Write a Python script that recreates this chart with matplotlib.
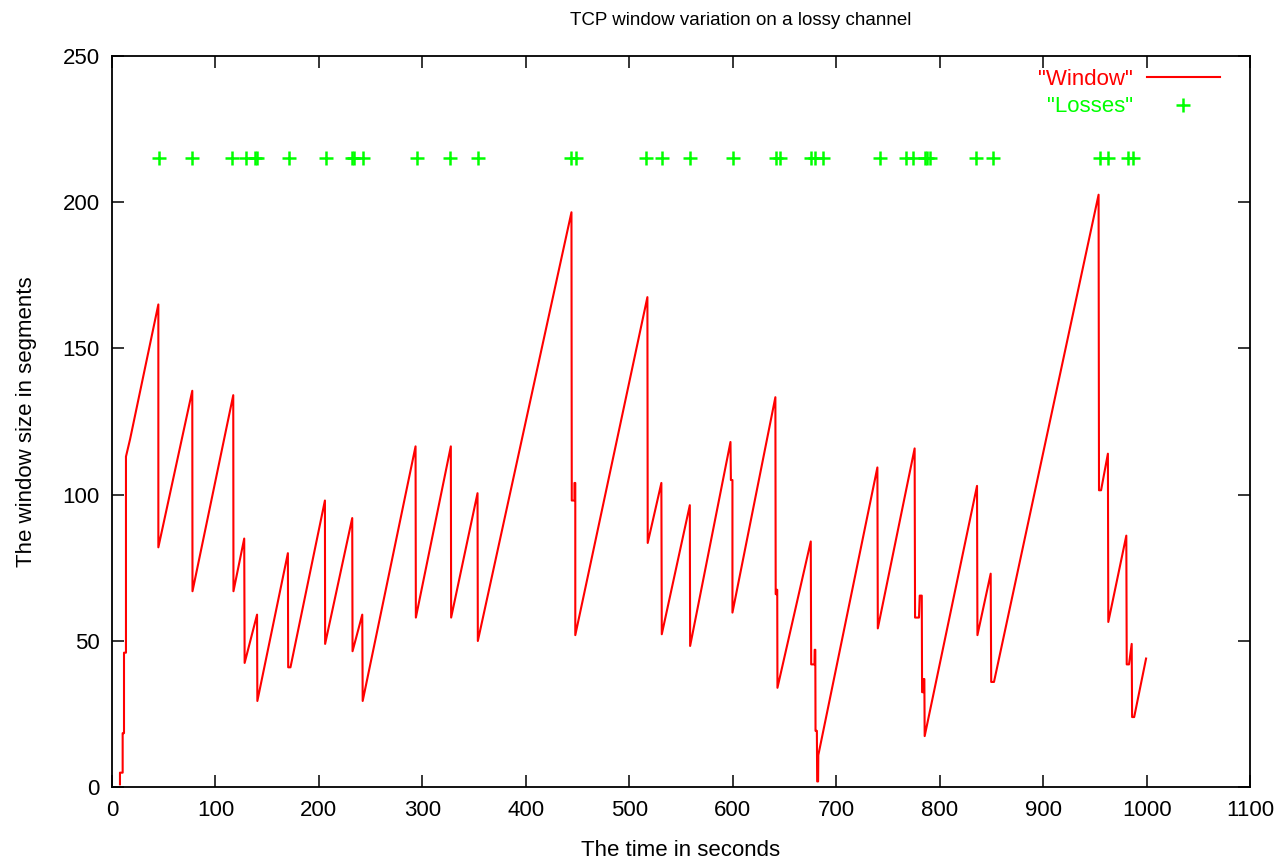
import matplotlib.pyplot as plt

# window trace, corners (time in s, window in segments)
win_t = [7.7, 7.7, 10.3, 10.3, 11.6, 11.6, 13.5, 13.5, 17.5, 44.8, 44.8, 77.6, 77.8,
         117.2, 117.4, 127.8, 128.2, 140.2, 140.5, 170.0, 170.3, 172.5, 205.8, 206.0,
         232.2, 232.5, 241.9, 242.3, 293.4, 293.7, 327.5, 327.8, 353.3, 353.6,
         444.1, 444.4, 447.0, 447.0, 447.8, 447.8, 517.5, 517.8, 531.0, 531.4,
         558.5, 558.8, 597.8, 598.2, 599.7, 599.7, 641.2, 641.5, 642.6, 642.6, 643.0, 643.2,
         675.4, 675.8, 679.0, 679.2, 679.8, 680.0, 681.3, 681.6, 682.5, 682.7,
         739.8, 740.2, 775.8, 776.2, 780.0, 780.7, 782.7, 783.0, 784.5, 784.5, 785.2, 785.5,
         836.1, 836.5, 849.3, 849.8, 852.5, 953.6, 954.0, 956.0, 962.6, 963.0,
         980.4, 980.8, 983.0, 985.6, 986.0, 988.0, 999.5]
win_w = [1, 5, 5, 18.5, 18.5, 46, 46, 113, 119, 165, 82, 135.5, 67,
         134, 67, 85, 42.5, 59, 29.5, 80, 41, 41, 98, 49,
         92, 46.5, 59, 29.5, 116.5, 58, 116.5, 58, 100.5, 50,
         196.5, 98, 98, 104, 104, 52, 167.5, 83.5, 104, 52.3,
         96.4, 48.3, 118, 105, 105, 59.7, 133.3, 66, 66, 67.5, 67.5, 34,
         84, 42, 42, 47, 47, 19.3, 19.3, 2, 2, 11,
         109.3, 54.3, 115.8, 58, 58, 65.5, 65.5, 32.5, 32.5, 37, 37, 17.5,
         103, 52, 73, 36, 36, 202.5, 101.5, 101.5, 114, 56.5,
         86, 42, 42, 49, 24, 24, 44]

# loss events
loss_t = [45.7, 77.6, 115.7, 129.2, 138.4, 140.4, 171.0, 206.9, 231.6, 233.8, 242.8,
          294.4, 326.6, 354.0, 444.1, 448.3, 516.6, 532.0, 558.5, 600.3, 642.2, 645.4,
          676.0, 679.2, 687.2, 742.0, 767.8, 774.2, 785.5, 788.0, 790.3, 835.5, 851.5,
          954.6, 962.6, 981.9, 986.8]
loss_y = [215] * len(loss_t)

plt.rcParams['font.family'] = ['Liberation Sans', 'DejaVu Sans']

fig = plt.figure(figsize=(12.8, 8.61), dpi=100)
ax = fig.add_axes([0.0875, 0.0856, 0.8891, 0.8497])

ax.plot(win_t, win_w, color='#ff0000', lw=1.5, label='"Window"')
ax.plot(loss_t, loss_y, linestyle='none', marker='+', color='#00ff00',
        markersize=10, markeredgewidth=1.8, label='"Losses"')

ax.set_xlim(0, 1100)
ax.set_ylim(0, 250)
ax.set_xticks(range(0, 1101, 100))
ax.set_yticks(range(0, 251, 50))
ax.tick_params(direction='in', length=8.5, width=1.1, top=True, right=True,
               labelsize=16, pad=9)
for s in ax.spines.values():
    s.set_linewidth(1.3)

# gnuplot puts the title a bit right of the plot centre
ax.set_title('TCP window variation on a lossy channel', fontsize=13.5, pad=22, x=0.552)
ax.set_xlabel('The time in seconds', fontsize=16, labelpad=14)
ax.set_ylabel('The window size in segments', fontsize=16, labelpad=18)

ax.legend(loc='upper right', bbox_to_anchor=(0.9815, 0.9945), frameon=False,
          markerfirst=False, fontsize=16, handlelength=3.3, handletextpad=0.63,
          labelcolor='linecolor', borderaxespad=0, labelspacing=0.3)

plt.savefig('out.png', dpi=100)
